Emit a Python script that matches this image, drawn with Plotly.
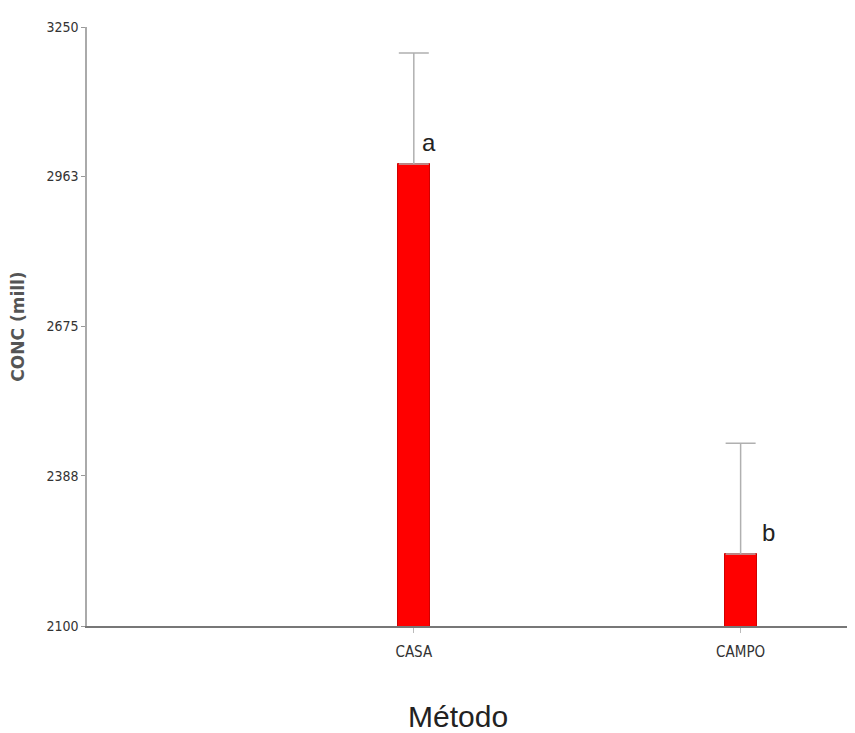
import plotly.graph_objects as go

categories = ["CASA", "CAMPO"]
means = [2987, 2238]
err_plus = [213, 213]
letters = ["a", "b"]
tick_vals = [2100, 2388, 2675, 2963, 3250]
tick_text = ["2100", "2388", "2675", "2963", "3250"]

# label offsets (pixels) for the significance letters
letter_xshift = [6, 19]
letter_yshift = [6, 6]

cond = "DejaVu Sans Condensed, Liberation Sans Narrow, sans-serif"

fig = go.Figure()
fig.add_trace(go.Bar(
    x=[0, 1], y=means, width=0.098,
    marker=dict(color="#ff0000", line=dict(color="#d00000", width=1)),
    error_y=dict(type="data", array=err_plus, symmetric=False, arrayminus=[0, 0],
                 color="#b0b0b0", thickness=1.5, width=15),
))

for i, (m, l) in enumerate(zip(means, letters)):
    fig.add_annotation(x=i, y=m, text=l, showarrow=False, xanchor="left", yanchor="bottom",
                       xshift=letter_xshift[i], yshift=letter_yshift[i],
                       font=dict(family="Arial, Liberation Sans", size=24, color="#222"))

# x-axis title placed slightly left of plot centre, as in the original
fig.add_annotation(xref="paper", yref="paper", x=0.483, y=0, yshift=-90,
                   text="Método", showarrow=False, xanchor="center", yanchor="middle",
                   font=dict(family="Arial, Liberation Sans", size=30, color="#222"))

fig.update_layout(
    width=847, height=725,
    margin=dict(l=79, r=0, t=19, b=107),
    plot_bgcolor="white", paper_bgcolor="white",
    showlegend=False,
    bargap=0,
)
fig.update_xaxes(
    range=[-1, 1.35], tickvals=[0, 1], ticktext=categories,
    showline=True, linecolor="#777", linewidth=1.5, ticks="outside", ticklen=5, tickcolor="#bbb",
    ticklabelstandoff=6,
    showgrid=False, zeroline=False,
    tickfont=dict(family=cond, size=15, color="#333"),
)
fig.update_yaxes(
    range=[2100, 3250], tickvals=tick_vals, ticktext=tick_text,
    showline=True, linecolor="#aaa", linewidth=1.5, ticks="outside", ticklen=4, tickcolor="#999",
    showgrid=False, zeroline=False,
    tickfont=dict(family=cond, size=14, color="#333"),
    title=dict(text="<b>CONC (mill)</b>", font=dict(family="DejaVu Sans, sans-serif", size=17, color="#555"), standoff=24),
)

fig.write_html("out.html")
